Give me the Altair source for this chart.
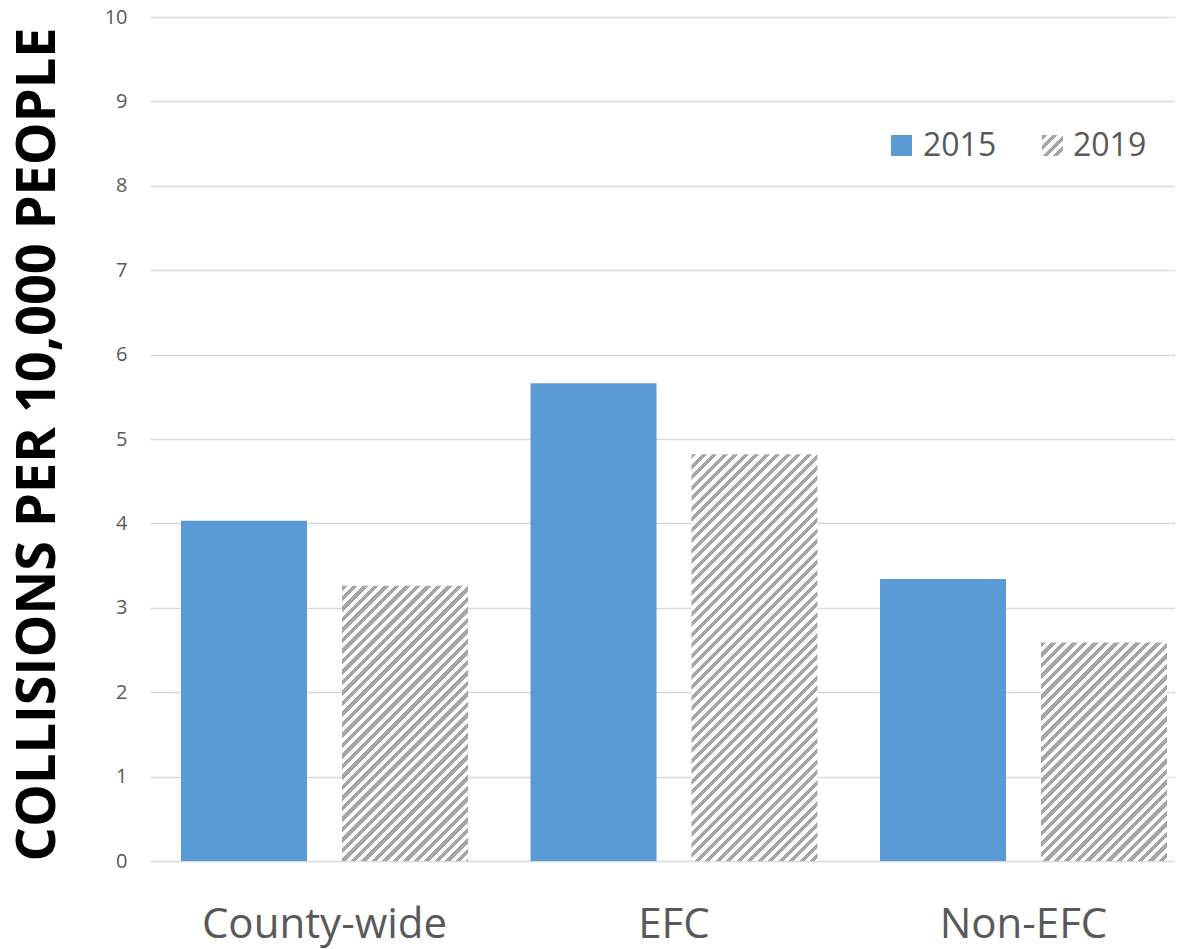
import altair as alt
import pandas as pd

# ---------------- data ----------------
categories = ["County-wide", "EFC", "Non-EFC"]
years = ["2015", "2019"]
values_2015 = [4.03, 5.66, 3.34]
values_2019 = [3.26, 4.82, 2.59]
y_ticks = [0, 1, 2, 3, 4, 5, 6, 7, 8, 9, 10]
y_title = "COLLISIONS PER 10,000 PEOPLE"

# ---------------- style ----------------
BLUE = "#5B9BD5"
HATCH = "#A6A6A6"
TEXT = "#595959"
GRID = "#D9D9D9"
FONT = "Open Sans"

W, H = 1025, 844
YMAX = 10
BAR_W = 126
PERIOD = 10.5

rows = []
for c, a, b in zip(categories, values_2015, values_2019):
    rows.append({"category": c, "year": years[0], "value": a})
    rows.append({"category": c, "year": years[1], "value": b})
df = pd.DataFrame(rows)
legend_df = pd.DataFrame({"year": years})


def hatch(w, h, period=PERIOD, color=HATCH):
    """45-degree stripe fill built as a hard-stop linear gradient."""
    total = w + h
    stops = []
    pos = 0.0
    while pos < total - 1e-9:
        a = pos / total
        m = min((pos + period / 2) / total, 1.0)
        e = min((pos + period) / total, 1.0)
        stops += [
            {"offset": a, "color": color},
            {"offset": m, "color": color},
            {"offset": m, "color": "#FFFFFF"},
            {"offset": e, "color": "#FFFFFF"},
        ]
        pos += period
    d = w * w + h * h
    return {
        "gradient": "linear",
        "x1": 0, "y1": 0,
        "x2": w * total / d, "y2": h * total / d,
        "stops": stops,
    }


x_enc = alt.X(
    "category:N",
    sort=categories,
    scale=alt.Scale(domain=categories, paddingInner=0.17883, paddingOuter=0.0558, align=0.795),
    axis=alt.Axis(
        title=None, labelAngle=0, labelFontSize=42, labelColor=TEXT, labelFont=FONT,
        ticks=False, tickSize=0, domain=False, grid=False, labelLimit=1000,
        labelPadding=76, labelBaseline="alphabetic",
    ),
)
xoff_enc = alt.XOffset("year:N", scale=alt.Scale(domain=years, paddingInner=0.2174, paddingOuter=0))
y_enc = alt.Y(
    "value:Q",
    scale=alt.Scale(domain=[0, YMAX], nice=False),
    axis=alt.Axis(
        values=y_ticks, format="d", title=y_title,
        grid=True, gridColor=GRID, gridWidth=1.5,
        domain=False, ticks=False, tickSize=0,
        labelPadding=23, labelFontSize=20, labelColor=TEXT, labelFont=FONT,
        titleFont=FONT, titleFontWeight="bold", titleFontSize=54, titleColor="#000000",
        titleAngle=270, titleX=-96, titleY=427, titleAlign="center", titleBaseline="alphabetic",
        titleLimit=2000,
    ),
)

base = alt.Chart(df)
layers = [
    base.transform_filter(alt.datum.year == years[0])
    .mark_bar(fill=BLUE)
    .encode(x=x_enc, xOffset=xoff_enc, y=y_enc)
]
for c, v in zip(categories, values_2019):
    layers.append(
        base.transform_filter((alt.datum.year == years[1]) & (alt.datum.category == c))
        .mark_bar(fill=hatch(BAR_W, v * H / YMAX))
        .encode(x=x_enc, xOffset=xoff_enc, y=y_enc)
    )

# ---------------- legend ----------------
leg = alt.Chart(legend_df)
layers += [
    leg.transform_filter(alt.datum.year == years[0]).mark_square(size=441, fill=BLUE, opacity=1)
    .encode(x=alt.value(751.5), y=alt.value(128.5)),
    leg.transform_filter(alt.datum.year == years[1]).mark_square(size=441, fill=hatch(21, 21), opacity=1)
    .encode(x=alt.value(902.5), y=alt.value(128.5)),
    leg.transform_filter(alt.datum.year == years[0]).mark_text(align="left", baseline="alphabetic", fontSize=32, font=FONT, color=TEXT)
    .encode(x=alt.value(773), y=alt.value(139), text="year:N"),
    leg.transform_filter(alt.datum.year == years[1]).mark_text(align="left", baseline="alphabetic", fontSize=32, font=FONT, color=TEXT)
    .encode(x=alt.value(923), y=alt.value(139), text="year:N"),
]

chart = (
    alt.layer(*layers)
    .properties(
        width=W, height=H,
        background="#FFFFFF",
        autosize=alt.AutoSizeParams(type="none"),
        padding={"left": 142, "top": 9, "right": 0, "bottom": 100},
    )
    .configure_view(strokeWidth=0, stroke="transparent")
)

chart.save("out.html", embed_options={"renderer": "svg", "actions": False})
